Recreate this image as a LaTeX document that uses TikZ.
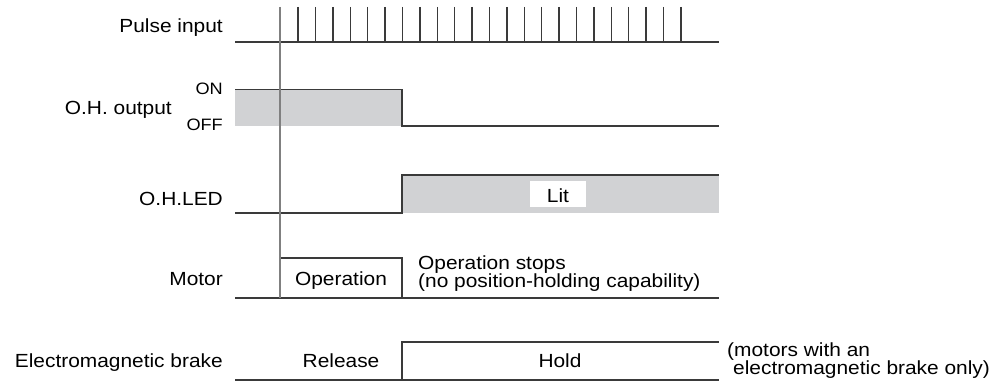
\documentclass[tikz,border=0pt]{standalone}
\usepackage{fontspec}
\setmainfont{Liberation Sans}[FakeStretch=1.1]
\usepackage{tikz}
\usetikzlibrary{positioning}
\usepackage{xcolor}
\definecolor{wline}{HTML}{3A3A3A}
\definecolor{wfill}{HTML}{D1D2D4}
\definecolor{wref}{HTML}{808080}
\newcommand{\sigfont}{\fontsize{19}{18}\selectfont}
\newcommand{\lvlfont}{\fontsize{16.5}{19}\selectfont}
\tikzset{
  wave/.style    = {draw=wline, line width=1.3pt},
  levelfill/.style = {fill=wfill, draw=none},
  refline/.style = {draw=wref, line width=1.3pt},
  signame/.style = {anchor=base east, inner sep=0pt, font=\sigfont},
  lvlname/.style = {anchor=base east, inner sep=0pt, font=\lvlfont},
  statetxt/.style = {anchor=base, inner sep=0pt, font=\sigfont},
  remark/.style  = {anchor=base west, inner sep=0pt, font=\sigfont},
}

\begin{document}
\begin{tikzpicture}[x=1pt,y=-1pt]
\useasboundingbox (0,0) rectangle (1003,385);
% signal names
\node[signame] (Npulse) at (223,32.5) {Pulse input};
\node[signame] (Nout) at (172,115) {O.H. output};
\node[lvlname] (Non) at (223,94.5) {ON};
\node[lvlname] (Noff) at (223,130.5) {OFF};
\node[signame] (Nled) at (223,205.5) {O.H.LED};
\node[signame] (Nmotor) at (223,285) {Motor};
\node[signame] (Nbrake) at (223,367.5) {Electromagnetic brake};
% pulse input
\draw[wave] (235,42) -- (719,42);
\foreach \i in {1,...,23}
  \draw[wave] (280.7+17.4*\i,7) -- (280.7+17.4*\i,42);
% O.H. output
\fill[levelfill] (235,89.5) rectangle (402,126);
\draw[wave] (235,89.5) -- (402,89.5) -- (402,126) -- (719,126);
% O.H.LED
\fill[levelfill] (402,175) rectangle (719,213);
\draw[wave] (235,213) -- (402,213) -- (402,175) -- (719,175);
\node[fill=white, minimum width=56pt, minimum height=26pt, inner sep=0pt] (Llitbox) at (558,194) {};
\node[statetxt] (Llit) at (558,202.5) {Lit};
% motor
\draw[wave] (235,298) -- (719,298);
\draw[wave] (280,258) -- (402,258) -- (402,298);
\node[statetxt] (Mop) at (341,285) {Operation};
\node[remark] (Mstop) at (418,269.5) {Operation stops};
\node[remark] (Mstop2) at (418,287.5) {(no position-holding capability)};
% electromagnetic brake
\draw[wave] (235,380) -- (719,380);
\draw[wave] (402,380) -- (402,342) -- (719,342);
\node[statetxt] (Brel) at (341,367.5) {Release};
\node[statetxt] (Bhold) at (560,367.5) {Hold};
\node[remark] (Bnote) at (727,356) {(motors with an};
\node[remark] (Bnote2) at (733,374) {electromagnetic brake only)};
% reference instant
\draw[refline] (280,7) -- (280,298);
\end{tikzpicture}
\end{document}
